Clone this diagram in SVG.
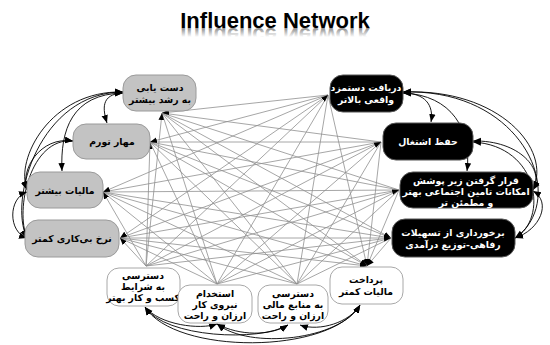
<svg xmlns="http://www.w3.org/2000/svg" width="550" height="345" viewBox="0 0 550 345">
<defs>
<marker id="a" viewBox="0 0 10 10" refX="10" refY="5" markerWidth="7" markerHeight="7" markerUnits="userSpaceOnUse" orient="auto-start-reverse"><path d="M0,1 L10,5 L0,9 z" fill="#000"/></marker>
<marker id="b" viewBox="0 0 10 10" refX="10" refY="5" markerWidth="8" markerHeight="8" markerUnits="userSpaceOnUse" orient="auto-start-reverse"><path d="M0,1 L10,5 L0,9 z" fill="#000"/></marker>
<linearGradient id="rg" gradientUnits="userSpaceOnUse" x1="0" y1="28" x2="0" y2="19"><stop offset="0" stop-color="#8a8a8a"/><stop offset="1" stop-color="#fff"/></linearGradient>
</defs>
<style>
.t{font-family:"Liberation Sans",Arial,sans-serif;font-weight:bold;font-size:22px}
.e{stroke:#8f8f8f;stroke-width:0.8;fill:none;marker-start:url(#a);marker-end:url(#a)}
.c{stroke:#000;stroke-width:0.9;fill:none;marker-start:url(#b);marker-end:url(#b)}
.g rect{fill:#c3c3c3;stroke:#9a9a9a;stroke-width:1}
.k rect{fill:#000;stroke:#555;stroke-width:1}
.w rect{fill:#fff;stroke:#a8a8a8;stroke-width:1}
.n text{font-family:"DejaVu Sans",sans-serif;font-weight:bold;font-size:9.3px;text-anchor:middle}
.g text,.w text{fill:#000}
.k text{fill:#fff}
</style>
<rect width="550" height="345" fill="#fff"/>
<text class="t" x="275" y="28" text-anchor="middle" fill="#000">Influence Network</text>
<text class="t" x="275" y="28" text-anchor="middle" fill="url(#rg)" transform="translate(0,56) scale(1,-1)">Influence Network</text>
<g id="connectors">
<path class="e" d="M162,113L328,95M162,113L381,142M162,113L399,190M162,113L391,238"/>
<path class="e" d="M150,142L328,95M150,142L381,142M150,142L399,190M150,142L391,238"/>
<path class="e" d="M103,192L328,95M103,192L381,142M103,192L399,190M103,192L391,238"/>
<path class="e" d="M120,238L328,95M120,238L381,142M120,238L399,190M120,238L391,238"/>
<path class="e" d="M162,113L146,266M162,113L217,284M162,113L297,284M162,113L367,266"/>
<path class="e" d="M150,142L146,266M150,142L217,284M150,142L297,284M150,142L367,266"/>
<path class="e" d="M103,192L146,266M103,192L217,284M103,192L297,284M103,192L367,266"/>
<path class="e" d="M120,238L146,266M120,238L217,284M120,238L297,284M120,238L367,266"/>
<path class="e" d="M328,95L146,266M328,95L217,284M328,95L297,284M328,95L367,266"/>
<path class="e" d="M381,142L146,266M381,142L217,284M381,142L297,284M381,142L367,266"/>
<path class="e" d="M399,190L146,266M399,190L217,284M399,190L297,284M399,190L367,266"/>
<path class="e" d="M391,238L146,266M391,238L217,284M391,238L297,284M391,238L367,266"/>
<path class="c" d="M123,93C100,94 103,110 107,123"/>
<path class="c" d="M123,93C72,94 60,130 62,171"/>
<path class="c" d="M123,92C50,90 15,160 27,189"/>
<path class="c" d="M123,92C40,92 8,200 27,238"/>
<path class="c" d="M73,141C40,136 20,170 27,190"/>
<path class="c" d="M73,141C30,137 15,210 27,238"/>
<path class="c" d="M27,192C8,198 8,232 27,238"/>
<path class="c" d="M403,93C425,93 434,105 431,122"/>
<path class="c" d="M403,93C452,95 472,130 467,171"/>
<path class="c" d="M403,92C500,88 552,150 533,189"/>
<path class="c" d="M403,92C525,88 570,200 515,238"/>
<path class="c" d="M473,141C520,140 545,170 533,190"/>
<path class="c" d="M473,142C540,146 548,220 515,238"/>
<path class="c" d="M533,191C552,202 540,230 515,238"/>
<path class="c" d="M145,307C160,325 200,330 217,324"/>
<path class="c" d="M145,307C165,338 260,342 288,325"/>
<path class="c" d="M145,307C175,355 330,355 360,305"/>
<path class="c" d="M217,324C240,336 270,336 288,325"/>
<path class="c" d="M217,324C250,350 340,340 360,305"/>
<path class="c" d="M300,325C320,332 350,322 360,305"/>
</g>
<g id="n1" class="n g"><rect x="123" y="75" width="73" height="36" rx="13"/><text x="160" y="91">دست یابی</text><text x="160" y="103">به رشد بیشتر</text></g>
<g id="n2" class="n g"><rect x="73" y="124" width="77" height="35" rx="13"/><text x="112" y="145">مهار تورم</text></g>
<g id="n3" class="n g"><rect x="27" y="172" width="76" height="36" rx="13"/><text x="65" y="194">مالیات بیشتر</text></g>
<g id="n4" class="n g"><rect x="25" y="220" width="94" height="37" rx="13"/><text x="72" y="242">نرخ بی‌کاری کمتر</text></g>
<g id="n5" class="n k"><rect x="330" y="75" width="73" height="37" rx="13"/><text x="366" y="91">دریافت دستمزد</text><text x="366" y="103">واقعی بالاتر</text></g>
<g id="n6" class="n k"><rect x="383" y="123" width="90" height="37" rx="13"/><text x="428" y="145">حفظ اشتغال</text></g>
<g id="n7" class="n k"><rect x="400" y="172" width="133" height="36" rx="13"/><text x="466" y="184">قرار گرفتن زیر پوشش</text><text x="466" y="195">امکانات تامین اجتماعی بهتر</text><text x="466" y="206">و مطمئن تر</text></g>
<g id="n8" class="n k"><rect x="392" y="219" width="123" height="38" rx="13"/><text x="453" y="236">برخورداری از تسهیلات</text><text x="453" y="248">رفاهی-توزیع درآمدی</text></g>
<g id="n9" class="n w"><rect x="107" y="268" width="73" height="38" rx="12"/><text x="143" y="279">دسترسی</text><text x="143" y="290">به شرایط</text><text x="143" y="301">کسب و کار بهتر</text></g>
<g id="n10" class="n w"><rect x="178" y="285" width="74" height="38" rx="12"/><text x="215" y="297">استخدام</text><text x="215" y="308">نیروی کار</text><text x="215" y="319">ارزان و راحت</text></g>
<g id="n11" class="n w"><rect x="258" y="285" width="70" height="38" rx="12"/><text x="293" y="297">دسترسی</text><text x="293" y="308">به منابع مالی</text><text x="293" y="319">ارزان و راحت</text></g>
<g id="n12" class="n w"><rect x="330" y="267" width="73" height="37" rx="12"/><text x="366" y="283">پرداخت</text><text x="366" y="295">مالیات کمتر</text></g>
</svg>
